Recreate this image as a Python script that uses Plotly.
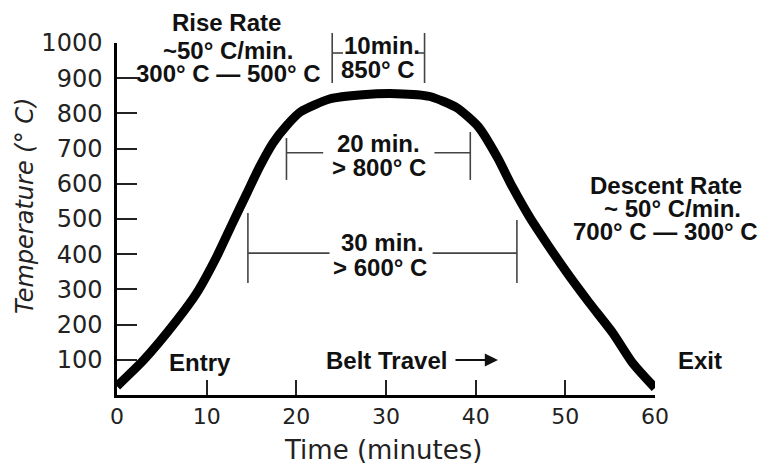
import plotly.graph_objects as go

# ---- data ----
time_min = [0, 3, 6.7, 8.9, 11.1, 12.9, 14.5, 15.9, 17.4, 18.9, 20.5, 23.7, 27.4,
            31.2, 34.9, 37.9, 40.3, 42.4, 44.1, 46.0, 47.9, 50.2, 52.7, 55.3, 57.5, 60]
temp_c = [25, 100, 213, 290, 392, 489, 574, 648, 716, 765, 805, 841, 853,
          856, 848, 816, 762, 676, 591, 506, 432, 347, 261, 176, 91, 20]

x_tick_vals = [0, 10, 20, 30, 40, 50, 60]
y_tick_vals = [100, 200, 300, 400, 500, 600, 700, 800, 900, 1000]

# ---- layout geometry (pixels of the 760x465 page) ----
W, H = 760, 465
L, R, T, B = 117, 105, 43, 70
PW, PH = W - L - R, H - T - B


def px(x):
    return (x - L) / PW


def py(y):
    return (H - B - y) / PH


BOLD = dict(family="Liberation Sans, Arial, sans-serif", size=24, color="#111")
REG = dict(family="DejaVu Sans, sans-serif", size=26, color="#222")

fig = go.Figure()
fig.add_trace(go.Scatter(
    x=time_min, y=temp_c, mode="lines",
    line=dict(color="black", width=9, shape="spline", smoothing=0.6),
    hoverinfo="skip", showlegend=False,
))

annotations = []


def label(text, x, y, font=BOLD, angle=0):
    annotations.append(dict(text=text, x=px(x), y=py(y), xref="paper", yref="paper",
                            showarrow=False, xanchor="center", yanchor="middle",
                            font=font, textangle=angle))


label("<b>Rise Rate</b>", 226, 23)
label("<b>~50° C/min.</b>", 228, 50)
label("<b>300° C — 500° C</b>", 228, 73)
label("<b>10min.</b>", 382, 45)
label("<b>850° C</b>", 378, 70)
label("<b>20 min.</b>", 378, 143)
label("<b>> 800° C</b>", 379, 167)
label("<b>30 min.</b>", 382, 243)
label("<b>> 600° C</b>", 380, 267)
label("<b>Descent Rate</b>", 666, 185)
label("<b>~ 50° C/min.</b>", 672, 208)
label("<b>700° C — 300° C</b>", 665, 232)
label("<b>Entry</b>", 200, 362)
label("<b>Belt Travel</b>", 386, 360)
label("<b>Exit</b>", 700, 360)
label("Time (minutes)", 383, 450, REG)
label("<i>Temperature (° C)</i>", 25, 206, dict(REG, size=24), -90)

# Belt travel arrow
annotations.append(dict(text="", x=px(498), y=py(360), xref="paper", yref="paper",
                        ax=-44, ay=0, axref="pixel", ayref="pixel", showarrow=True,
                        arrowhead=2, arrowsize=1.2, arrowwidth=2.2, arrowcolor="#111"))

shapes = []
GRAY = dict(color="#444", width=1.6)


def seg(x0, y0, x1, y1, yref="y"):
    shapes.append(dict(type="line", x0=x0, y0=y0, x1=x1, y1=y1,
                       xref="x", yref=yref, line=GRAY, layer="above"))


# 20 min > 800 C bracket
seg(18.9, 611, 18.9, 730)
seg(39.4, 611, 39.4, 747)
seg(18.9, 688, 23.0, 688)
seg(35.4, 688, 39.4, 688)
# 30 min > 600 C bracket
seg(14.6, 318, 14.6, 517)
seg(44.6, 318, 44.6, 497)
seg(14.6, 403, 23.7, 403)
seg(35.2, 403, 44.6, 403)
# 10 min @ 850 C bracket (above the plot)
seg(24.0, py(83), 24.0, py(33), "paper")
seg(34.3, py(83), 34.3, py(33), "paper")
seg(24.0, py(53), 25.2, py(53), "paper")
seg(33.4, py(53), 34.3, py(53), "paper")

fig.update_layout(
    width=W, height=H,
    margin=dict(l=L, r=R, t=T, b=B, pad=0, autoexpand=False),
    paper_bgcolor="white", plot_bgcolor="white",
    showlegend=False,
    annotations=annotations,
    shapes=shapes,
    xaxis=dict(range=[0, 60], tickvals=x_tick_vals, ticks="inside", ticklen=15,
               tickwidth=2, tickcolor="#222", showline=True, linecolor="black",
               linewidth=2.5, showgrid=False, zeroline=False,
               tickfont=dict(family="DejaVu Sans, sans-serif", size=22, color="#222")),
    yaxis=dict(range=[0, 1000], tickvals=y_tick_vals, ticks="inside", ticklen=20,
               tickwidth=2, tickcolor="#222", showline=True, linecolor="black",
               linewidth=2.5, showgrid=False, zeroline=False, ticklabelstandoff=7,
               tickfont=dict(family="DejaVu Sans, sans-serif", size=24, color="#222")),
)

fig.write_html("out.html", config={"displayModeBar": False},
               post_script="document.body.style.margin='0';document.body.style.overflow='hidden';")
